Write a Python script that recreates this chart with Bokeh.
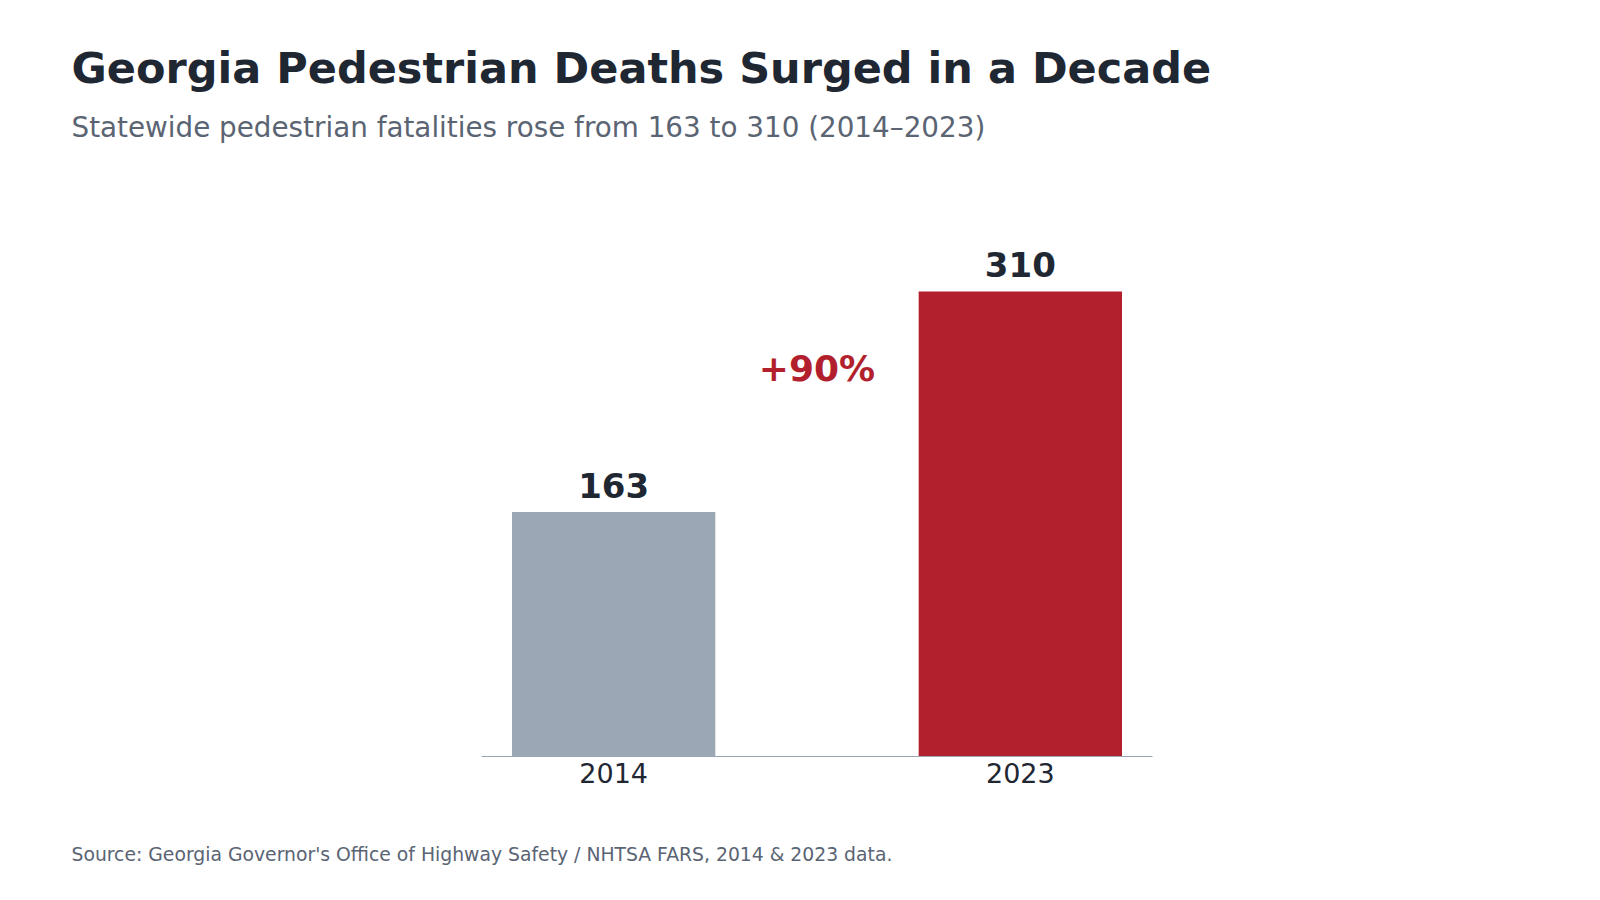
from bokeh.plotting import figure
from bokeh.models import Label, ColumnDataSource, FactorRange, Range1d, Title
from bokeh.core.properties import value
from bokeh.embed import file_html
from bokeh.resources import INLINE

# ---- data ----
years = ["2014", "2023"]
deaths = [163, 310]
bar_colors = ["#9ba7b4", "#b21f2d"]
title_text = "Georgia Pedestrian Deaths Surged in a Decade"
subtitle_text = "Statewide pedestrian fatalities rose from 163 to 310 (2014\u20132023)"
source_text = "Source: Georgia Governor's Office of Highway Safety / NHTSA FARS, 2014 & 2023 data."

pct = round((deaths[1] - deaths[0]) / deaths[0] * 100)
pct_text = f"+{pct}%"

FONT = "DejaVu Sans"
DARK = "#1f2733"
GRAY = "#5a6473"

src = ColumnDataSource(dict(year=years, deaths=deaths, color=bar_colors,
                            label=[str(d) for d in deaths]))

p = figure(
    width=1600, height=900,
    x_range=FactorRange(*years, range_padding=-0.175, range_padding_units="absolute"),
    y_range=Range1d(0, max(deaths) * 1.2),
    output_backend="svg", toolbar_location=None,
    min_border_left=481, min_border_right=448,
    min_border_top=198, min_border_bottom=144,
    background_fill_color="white", border_fill_color="white",
)
p.outline_line_color = None
p.xgrid.visible = False
p.ygrid.visible = False
p.yaxis.visible = False

p.vbar(x="year", top="deaths", width=0.5, color="color", source=src, line_color=None)

p.text(x="year", y="deaths", text="label", source=src,
       text_align="center", text_baseline="alphabetic", y_offset=-27,
       text_font=value(FONT), text_font_size="34px", text_font_style="bold", text_color=DARK)

ax = p.xaxis[0]
ax.axis_line_color = "#9aa5b1"
ax.axis_line_width = 1
ax.major_tick_line_color = None
ax.minor_tick_line_color = None
ax.major_tick_out = 0
ax.major_tick_in = 0
ax.major_label_standoff = 6
ax.major_label_text_font = FONT
ax.major_label_text_font_size = "27px"
ax.major_label_text_color = DARK

p.add_layout(Label(x=1.0, y=deaths[1] * 0.835, text=pct_text, text_align="center",
                   text_baseline="alphabetic", text_font=FONT, text_font_size="36px",
                   text_font_style="bold", text_color=bar_colors[1]))

# titles: spacer nearest the plot, then subtitle, then title
p.add_layout(Title(text=" ", standoff=47, text_font_size="1px"), "above")
p.add_layout(Title(text=subtitle_text, align="left", offset=-410, standoff=10,
                   text_font=FONT, text_font_size="27.8px", text_font_style="normal",
                   text_color=GRAY), "above")
p.add_layout(Title(text=title_text, align="left", offset=-410, standoff=21,
                   text_font=FONT, text_font_size="43px", text_font_style="bold",
                   text_color=DARK), "above")
# source note below the axis, after a spacer
p.add_layout(Title(text=" ", standoff=53, text_font_size="1px"), "below")
p.add_layout(Title(text=source_text, align="left", offset=-410, standoff=0,
                   text_font=FONT, text_font_size="18.8px", text_font_style="normal",
                   text_color=GRAY), "below")

open("out.html", "w").write(file_html(p, INLINE))
